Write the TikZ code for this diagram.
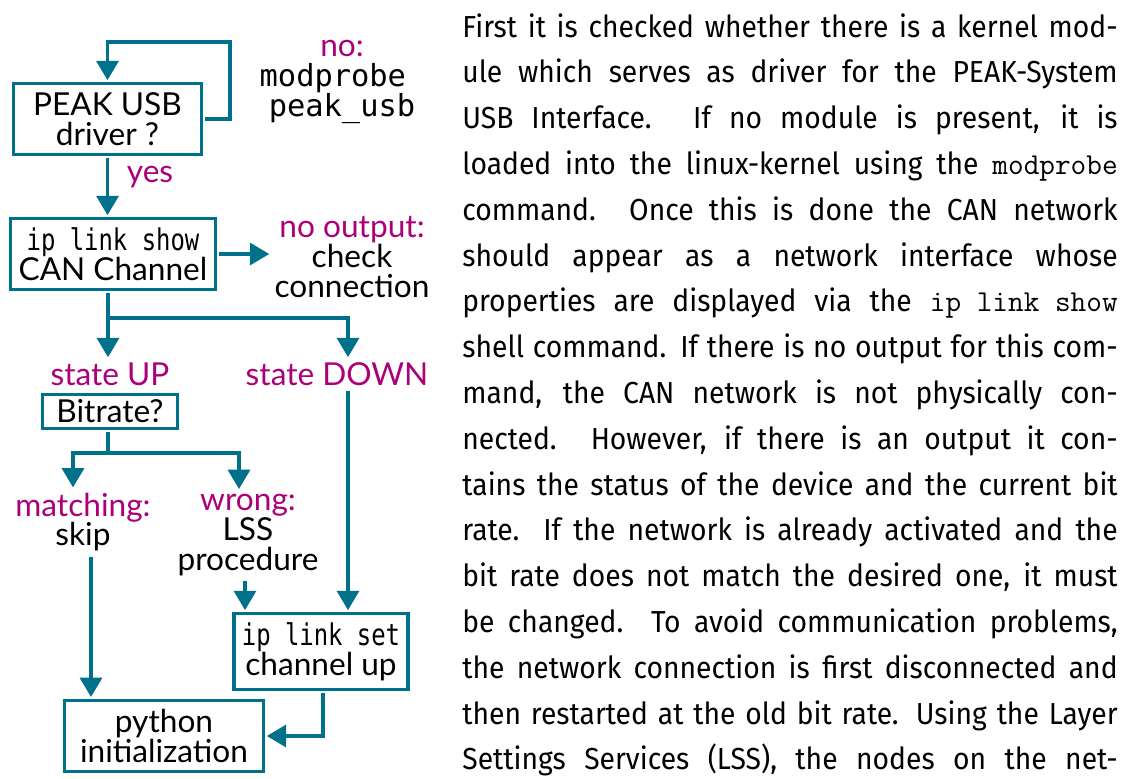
\documentclass[tikz,border=0pt]{standalone}
\usepackage{fontspec}
\usetikzlibrary{arrows.meta}
\newfontfamily\flowfont{Lato}
\newfontfamily\shellfont{DejaVu Sans Mono}
\newfontfamily\narrowshell[FakeStretch=0.8]{DejaVu Sans Mono}
\newfontfamily\parafont[FakeStretch=0.93]{Fira Sans}
\definecolor{flowteal}{RGB}{0,113,138}
\definecolor{flowpink}{RGB}{172,0,120}
\newcommand{\flowtext}{\flowfont\fontsize{18}{17}\selectfont}
\newcommand{\paratext}{\parafont\fontsize{17.3}{26}\selectfont}
\newcommand{\shellcmd}[1]{{\narrowshell\fontsize{17}{17}\selectfont #1}}
\newcommand{\bigshell}[1]{{\shellfont\fontsize{17.3}{20}\selectfont #1}}
\newcommand{\hl}[1]{\textcolor{flowpink}{#1}}
\tikzset{
	flowbox/.style={draw=flowteal,line width=1.9pt,inner xsep=4.5pt,inner ysep=5pt,align=center,font=\flowtext,outer sep=2pt},
	note/.style={align=center,font=\flowtext,inner sep=1pt,outer sep=2pt},
	wire/.style={draw=flowteal,line width=1.9pt},
	flow/.style={wire,-{Triangle[width=12.5pt,length=11pt]}},
	paraline/.style={anchor=base west,inner sep=0pt,font=\paratext}
}

\begin{document}
\begin{tikzpicture}[x=0.02cm,y=-0.02cm]
	\useasboundingbox (0,0) rectangle (1131,778);

	% boxes
	\node[flowbox,minimum width=107pt] (drv) at (107.5,119) {PEAK USB\\driver ?};
	\node[flowbox] (ipshow) at (113,254) {\shellcmd{ip link show}\\CAN Channel};
	\node[flowbox,minimum width=77pt,inner ysep=3pt] (bitrate) at (110,411.5) {Bitrate?};
	\node[flowbox] (setup) at (321,651.5) {\shellcmd{ip link set}\\channel up};
	\node[flowbox,minimum width=113pt] (python) at (164,736) {python\\initialization};

	% branch labels
	\node[note] (modload) at (342,82) {\hl{no:}\\\bigshell{modprobe\hphantom{e}}\\\bigshell{peak\_usb}};
	\node[note] (yes) at (150,177) {\hl{yes}};
	\node[note] (nooutput) at (352,257) {\hl{no output:}\\check\\connection};
	\node[note] (stateup) at (110,374) {\hl{state UP}};
	\node[note] (statedown) at (337,374) {\hl{state DOWN}};
	\node[note] (match) at (83,522) {\hl{matching:}\\skip};
	\node[note] (wrong) at (248,535) {\hl{wrong:}\\LSS\\procedure};

	% where the lines run
	\coordinate (loop) at (230,42);
	\coordinate (fork1) at (108,318);
	\coordinate (fork2) at (108,453);
	\coordinate (colmatch) at (73,0);
	\coordinate (colwrong) at (239,0);
	\coordinate (colskip) at (91,0);
	\coordinate (colproc) at (245,0);
	\coordinate (coldown) at (348,0);
	\coordinate (colret) at (323,0);

	\draw[flow] (drv.east) -| (loop) -| (drv.north);
	\draw[flow] (drv.south) -- (drv.south |- ipshow.north);
	\draw[flow] (ipshow.east) -- (ipshow.east -| nooutput.west);
	\draw[wire] (ipshow.south -| fork1) -- (fork1);
	\draw[flow] (fork1) -- (fork1 |- stateup.north);
	\draw[flow] (fork1) -| (statedown.north -| coldown);
	\draw[wire] (bitrate.south -| fork2) -- (fork2);
	\draw[flow] (fork2) -| (match.north -| colmatch);
	\draw[flow] (fork2) -| (wrong.north -| colwrong);
	\draw[flow] (match.south -| colskip) -- (python.north -| colskip);
	\draw[flow] (wrong.south -| colproc) -- (setup.north -| colproc);
	\draw[flow] (statedown.south -| coldown) -- (setup.north -| coldown);
	\draw[flow] (setup.south -| colret) |- (python.east);

	% text beside the chart
	\foreach \txt [count=\i from 0] in {
		{First it is checked whether there is a kernel mod-},
		{ule which serves as driver for the PEAK-System},
		{USB Interface.  If no module is present, it is},
		{loaded into the linux-kernel using the \texttt{modprobe}},
		{command.  Once this is done the CAN network},
		{should appear as a network interface whose},
		{properties are displayed via the \texttt{ip link show}},
		{shell command. If there is no output for this com-},
		{mand, the CAN network is not physically con-},
		{nected.  However, if there is an output it con-},
		{tains the status of the device and the current bit},
		{rate.  If the network is already activated and the},
		{bit rate does not match the desired one, it must},
		{be changed. To avoid communication problems,},
		{the network connection is first disconnected and},
		{then restarted at the old bit rate. Using the Layer},
		{Settings Services (LSS), the nodes on the net-}}
		\node[paraline] at (462,{37+45.8*\i}) {\makebox[373pt][s]{\txt}};
\end{tikzpicture}
\end{document}
